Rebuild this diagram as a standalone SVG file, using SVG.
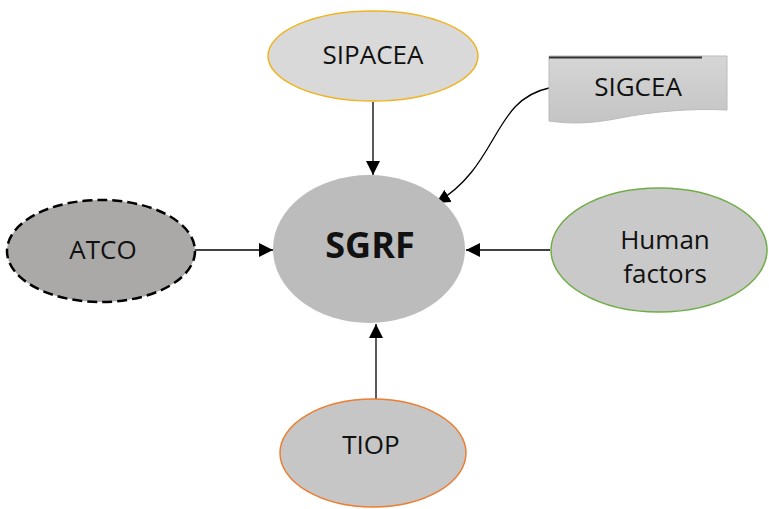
<svg xmlns="http://www.w3.org/2000/svg" width="769" height="509" viewBox="0 0 769 509">
<defs>
<style>
.t{font-family:"Open Sans","Liberation Sans",sans-serif;font-size:26px;fill:#111;text-anchor:middle;dominant-baseline:central}
.c{stroke:#000;stroke-width:1.3;fill:none;marker-end:url(#ah)}
</style>
<marker id="ah" viewBox="0 0 10 10" refX="10" refY="5" markerWidth="14" markerHeight="14" markerUnits="userSpaceOnUse" orient="auto">
<path d="M0,0 L10,5 L0,10 z" fill="#000"/>
</marker>
<linearGradient id="g1" x1="0" y1="0" x2="0" y2="1">
<stop offset="0" stop-color="#d6d6d6"/><stop offset="1" stop-color="#c4c4c4"/>
</linearGradient>
</defs>
<rect width="769" height="509" fill="#fff"/>
<g id="connectors">
<path class="c" d="M373,102 L373,175"/>
<path class="c" d="M549,88 C492,100 500,165 436,203"/>
<path class="c" d="M195,250 L273,250"/>
<path class="c" d="M550,250 L466,250"/>
<path class="c" d="M376,399 L376,324"/>
</g>
<g id="SGRF">
<ellipse cx="369" cy="249" rx="96" ry="74" fill="#bcbcbc"/>
<text class="t" x="370" y="244" style="font-size:36px;font-weight:bold">SGRF</text>
</g>
<g id="SIPACEA">
<ellipse cx="373" cy="56" rx="105" ry="45" fill="#d9d9d9" stroke="#f0b420" stroke-width="1.5"/>
<text class="t" x="373" y="54">SIPACEA</text>
</g>
<g id="SIGCEA">
<path d="M549,56 L727,56 L727,110 C690,108 650,112 620,118 C590,124 570,124 549,121 Z" fill="url(#g1)" stroke="#bbb" stroke-width="1"/>
<path d="M549,57.5 L702,57.5" stroke="#333" stroke-width="2"/>
<text class="t" x="638" y="86">SIGCEA</text>
</g>
<g id="ATCO">
<ellipse cx="101" cy="251" rx="94" ry="51" fill="#aba8a8" stroke="#000" stroke-width="2.5" stroke-dasharray="10,5"/>
<text class="t" x="103" y="249">ATCO</text>
</g>
<g id="HumanFactors">
<ellipse cx="659" cy="250" rx="108" ry="62" fill="#c9c9c9" stroke="#70ad47" stroke-width="1.5"/>
<text class="t" x="665" y="239">Human</text>
<text class="t" x="665" y="273">factors</text>
</g>
<g id="TIOP">
<ellipse cx="373" cy="453" rx="93" ry="54" fill="#c6c6c6" stroke="#ed7d31" stroke-width="1.5"/>
<text class="t" x="371" y="444">TIOP</text>
</g>
</svg>
